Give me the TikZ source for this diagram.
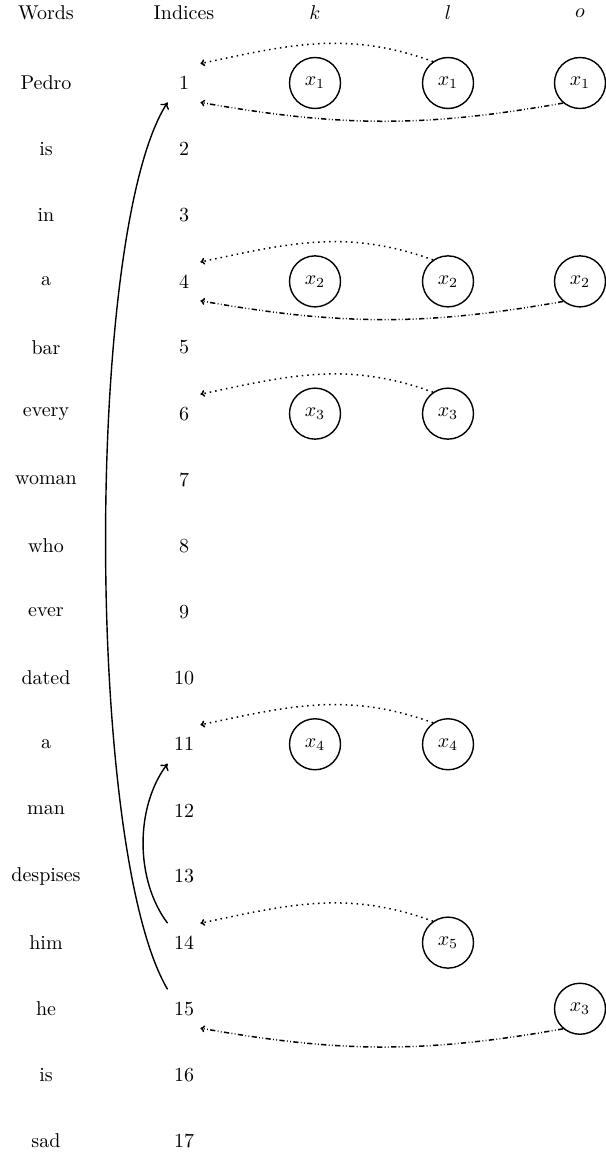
\documentclass[tikz,border=0pt]{standalone}
\usetikzlibrary{arrows.meta}
\begin{document}
\begin{tikzpicture}[x=0.5pt,y=-0.5pt,
  word/.style={inner sep=0pt, font=\fontsize{10}{12}\selectfont},
  idx/.style={inner sep=0pt, minimum width=16pt, minimum height=19pt, font=\fontsize{10}{12}\selectfont},
  var/.style={draw, circle, line width=0.7pt, minimum size=25.5pt, inner sep=0pt, font=\fontsize{10}{12}\selectfont},
  link/.style={dotted, line width=0.75pt, -{To[length=2.2pt,width=3.5pt]}},
  back/.style={line width=0.75pt, dash pattern=on 2.6pt off 1.2pt on 0.4pt off 1.2pt on 0.4pt off 1.2pt, -{To[length=2.2pt,width=3.5pt]}},
  jump/.style={line width=0.7pt, -{To[length=3pt,width=5pt]}}]
\useasboundingbox (0,0) rectangle (605,1161);

% column headings
\node[word] (hw) at (46,13) {Words};
\node[word] (hi) at (184,13) {Indices};
\node[word] (hk) at (315,13) {$k$};
\node[word] (hl) at (448,13) {$l$};
\node[word] (ho) at (580,13) {$o$};

% words and their indices
\foreach \w [count=\i] in {Pedro,is,in,a,bar,every,woman,who,ever,dated,a,man,despises,him,he,is,sad}{
  \pgfmathsetmacro{\yy}{83+(\i-1)*66.125}
  \node[word] (w\i) at (46,\yy) {\w};
  \node[idx] (i\i) at (184,\yy) {\i};
}

% discourse referents per row
\foreach \r/\n in {1/1,4/2,6/3,11/4}{
  \node[var] (k\r) at (315,{83+(\r-1)*66.125}) {$x_{\n}$};
  \node[var] (l\r) at (448,{83+(\r-1)*66.125}) {$x_{\n}$};
}
\node[var] (l14) at (448,{83+13*66.125}) {$x_5$};
\node[var] (o1) at (580,83) {$x_1$};
\node[var] (o4) at (580,{83+3*66.125}) {$x_2$};
\node[var] (o15) at (580,{83+14*66.125}) {$x_3$};

% links from l to the indices
\foreach \r in {1,4,6,11,14}{
  \draw[link] (l\r.125) to[out=160,in=12] (i\r.north east);
}
% links from o to the indices
\foreach \r in {1,4,15}{
  \draw[back] (o\r.230) to[out=190,in=-10] (i\r.south east);
}

% anaphoric jumps
\draw[jump] (i15.north west) .. controls (85,850) and (85,230) .. (i1.south west);
\draw[jump] (i14.north west) .. controls (135,880) and (135,807) .. (i11.south west);
\end{tikzpicture}
\end{document}
